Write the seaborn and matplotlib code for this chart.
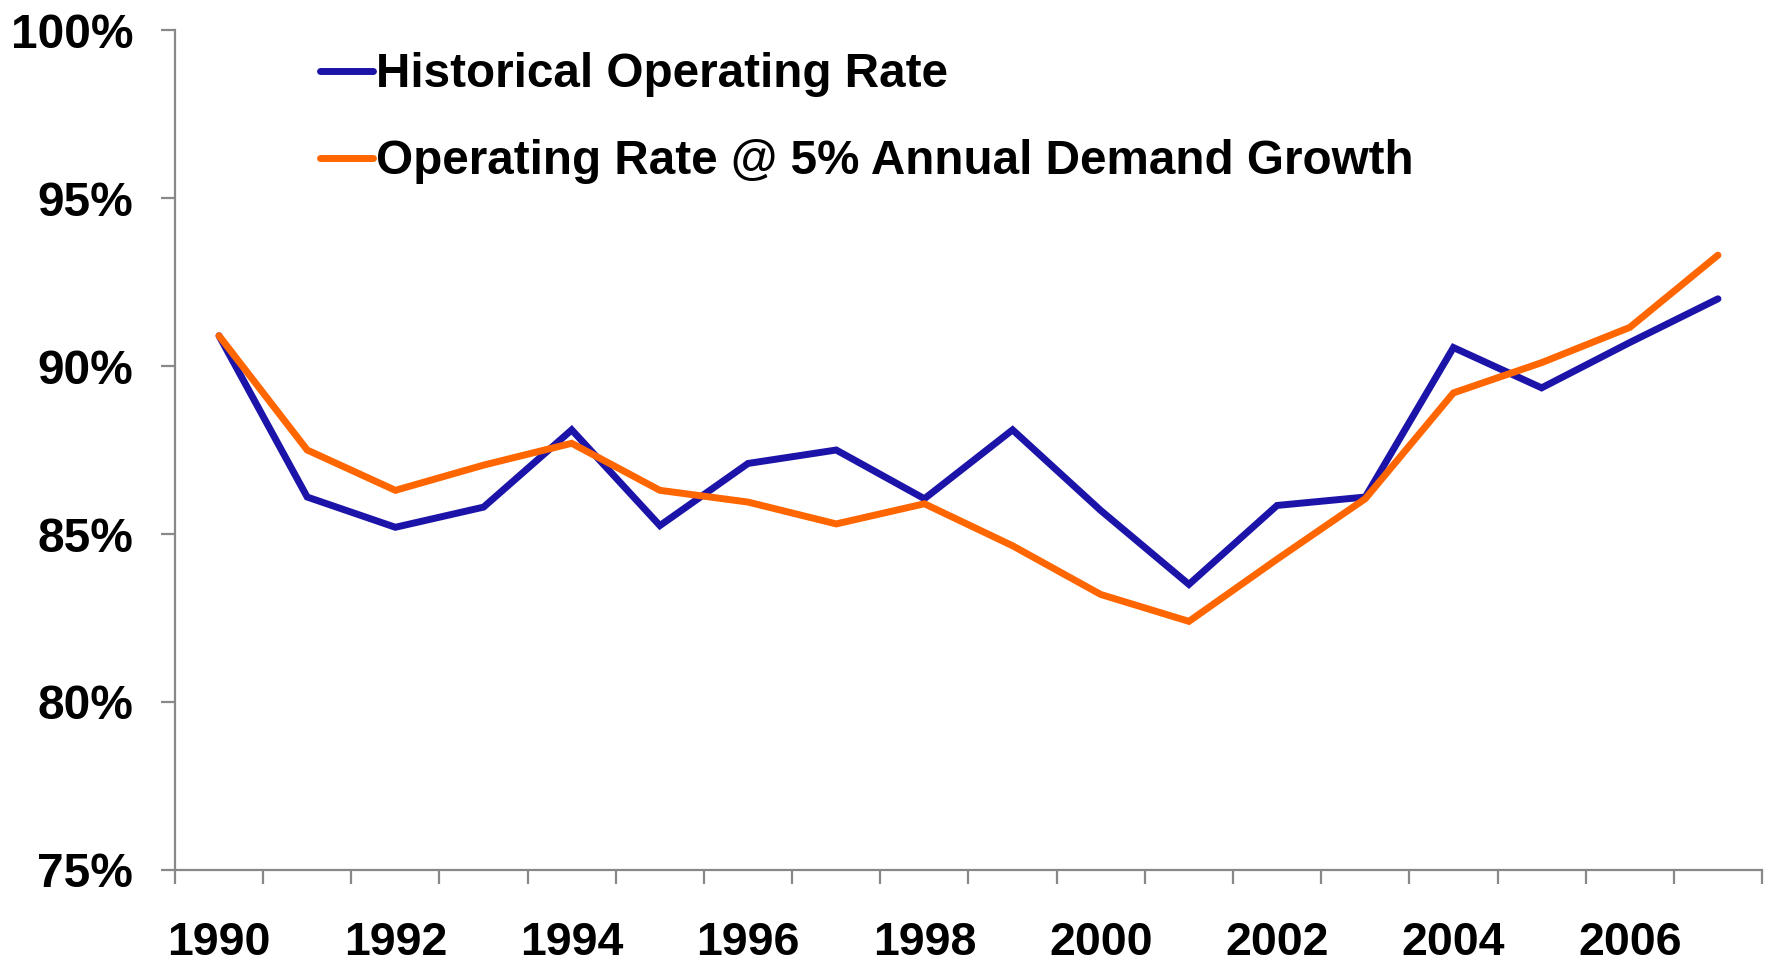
import numpy as np
import pandas as pd
import matplotlib
matplotlib.use("Agg")
import matplotlib.pyplot as plt
import seaborn as sns
from matplotlib.ticker import FixedLocator, PercentFormatter

# ==========================
# Data
# ==========================

years = list(range(1990, 2008))

historical = [90.9, 86.1, 85.2, 85.8, 88.1, 85.25, 87.1, 87.5, 86.05,
              88.1, 85.7, 83.5, 85.85, 86.1, 90.55, 89.35, 90.7, 92.0]

demand_5pct = [90.9, 87.5, 86.3, 87.05, 87.7, 86.3, 85.95, 85.3, 85.9,
               84.65, 83.2, 82.4, 84.25, 86.05, 89.2, 90.1, 91.15, 93.3]

series_names = ["Historical Operating Rate",
                "Operating Rate @ 5% Annual Demand Growth"]
series_colors = ["#1C14A8", "#FF6600"]

y_ticks = [75, 80, 85, 90, 95, 100]

df = pd.DataFrame({
    "idx": list(range(len(years))) * 2,
    "rate": historical + demand_5pct,
    "series": [series_names[0]] * len(years) + [series_names[1]] * len(years),
})

# ==========================
# Plot
# ==========================

sns.set_style("white")
plt.rcParams["font.family"] = ["Liberation Sans", "DejaVu Sans"]
plt.rcParams["font.weight"] = "bold"
plt.rcParams["text.color"] = "black"
plt.rcParams["xtick.labelcolor"] = "black"
plt.rcParams["ytick.labelcolor"] = "black"

fig = plt.figure(figsize=(17.67, 9.63), dpi=100)
ax = fig.add_axes([0.0990, 0.0966, 0.8982, 0.8722])

sns.lineplot(
    data=df,
    x="idx",
    y="rate",
    hue="series",
    hue_order=series_names,
    palette=series_colors,
    linewidth=5.0,
    ax=ax,
)
for line in ax.get_lines():
    line.set_solid_capstyle("round")
    line.set_solid_joinstyle("miter")

ax.set_xlim(-0.5, len(years) - 0.5)
ax.set_ylim(75, 100)

# labels on even years, tick marks between categories
ax.set_xticks(range(0, len(years), 2))
ax.set_xticklabels([str(y) for y in years[::2]])
ax.xaxis.set_minor_locator(FixedLocator(np.arange(-0.5, len(years), 1.0)))
ax.tick_params(axis="x", which="major", length=0, pad=37, labelsize=33.5,
               labelcolor="black")
ax.tick_params(axis="x", which="minor", length=10, width=1.6,
               color="#888888", direction="out", bottom=True)

ax.set_yticks(y_ticks)
ax.yaxis.set_major_formatter(PercentFormatter(decimals=0))
ax.tick_params(axis="y", length=10, width=1.6, color="#888888",
               direction="out", left=True, pad=20, labelsize=34.5,
               labelcolor="black")

for lbl in ax.get_xticklabels() + ax.get_yticklabels():
    lbl.set_fontweight("bold")

for side in ["top", "right"]:
    ax.spines[side].set_visible(False)
for side in ["left", "bottom"]:
    ax.spines[side].set_color("#888888")
    ax.spines[side].set_linewidth(1.6)

ax.set_xlabel("")
ax.set_ylabel("")

leg = ax.legend(
    loc="upper left",
    bbox_to_anchor=(0.1895 - 0.0990 / 0.8982, 0.996),
    frameon=False,
    handlelength=1.12,
    handletextpad=0.06,
    labelspacing=0.88,
    borderaxespad=0.0,
    prop={"size": 34.3, "weight": "bold"},
)
for txt in leg.get_texts():
    txt.set_color("black")

plt.savefig("out.png", dpi=100)
